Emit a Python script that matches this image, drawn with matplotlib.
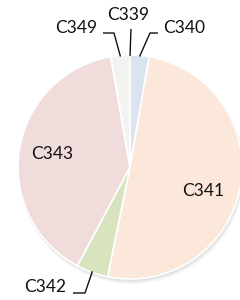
import matplotlib.pyplot as plt
import numpy as np
from matplotlib.patches import Circle

# pie data (clockwise from 12 o'clock)
categories = ['C339', 'C340', 'C341', 'C342', 'C343', 'C349']
values = [0, 3, 55, 5, 43, 3]
colors = ['#dbe3f1', '#dbe3f1', '#fce8da', '#d7e4bd', '#f1dcdc', '#f3f3f1']

# label placement: inside labels for the big slices, leader lines for the rest
inside_labels = {'C343': (52, 154), 'C341': (203, 191)}
outside_labels = {
    'C349': ((76, 28), [(103, 33), (114, 33)]),
    'C339': ((128, 15), [(131, 29), (131, 29)]),
    'C340': ((184, 28), [(158, 33), (150, 33)]),
    'C342': ((45, 287), [(73, 293), (85, 293)]),
}

W, H = 240, 300
CX, CY, R = 130, 167, 112


def px(p):
    # figure pixel -> data coordinates (pie radius = 1)
    return ((p[0] - CX) / R, (CY - p[1]) / R)


fig = plt.figure(figsize=(2.4, 3.0), dpi=100)
ax = fig.add_axes([0, 0, 1, 1])

# soft shadow under the pie
for off, a in [(0.035, 0.06), (0.025, 0.08), (0.015, 0.10)]:
    ax.add_patch(Circle((off * 0.4, -off), 1.0 + off * 0.3, color='#808080', alpha=a, lw=0, zorder=0))

wedges, _ = ax.pie(values, colors=colors, startangle=90, counterclock=False,
                   wedgeprops=dict(edgecolor='white', linewidth=1.2), radius=1.0)
for w in wedges:
    w.set_zorder(1)

# pie() resets the limits, so set them afterwards
ax.set_xlim(-CX / R, (W - CX) / R)
ax.set_ylim(-(H - CY) / R, CY / R)
ax.axis('off')

font = dict(family=['Lato', 'DejaVu Sans'], fontsize=12.5, color='#111111')

for name, pos in inside_labels.items():
    x, y = px(pos)
    ax.text(x, y, name, ha='center', va='center', zorder=3, **font)

for name, (pos, path) in outside_labels.items():
    w = wedges[categories.index(name)]
    mid = np.deg2rad((w.theta1 + w.theta2) / 2)
    end = (0.99 * np.cos(mid), 0.99 * np.sin(mid))
    pts = [px(p) for p in path] + [end]
    xs, ys = zip(*pts)
    ax.plot(xs, ys, color='#111111', lw=1.0, zorder=3, solid_capstyle='butt')
    x, y = px(pos)
    ax.text(x, y, name, ha='center', va='center', zorder=3, **font)

fig.savefig('out.png', dpi=100)
